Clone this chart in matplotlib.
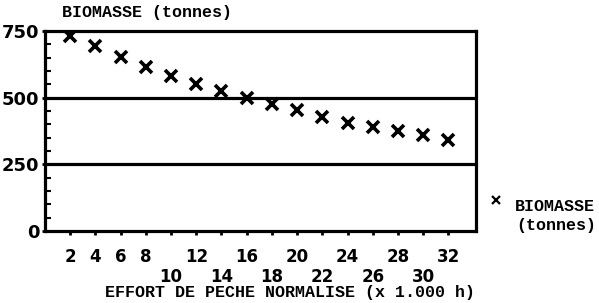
import matplotlib
matplotlib.use("Agg")
import matplotlib.pyplot as plt
from matplotlib.lines import Line2D
from matplotlib.ticker import MultipleLocator

# effort (x 1000 h) and biomass (tonnes)
effort = [2, 4, 6, 8, 10, 12, 14, 16, 18, 20, 22, 24, 26, 28, 30, 32]
biomasse = [732, 692, 652, 615, 580, 551, 525, 499, 476, 452, 427, 405, 390, 375, 360, 341]
y_ticks = [0, 250, 500, 750]
grid_levels = [250, 500]

mono = "Liberation Mono"
lw = 2.3

fig = plt.figure(figsize=(5.99, 3.03), dpi=100)
ax = fig.add_axes([0.075, 0.2376, 0.72, 0.66])

ax.plot(effort, biomasse, linestyle="none", marker="x", color="black",
        markersize=8.5, markeredgewidth=2.6)

for lev in grid_levels:
    ax.axhline(lev, color="black", lw=lw, zorder=1)

ax.set_xlim(0, 34.2)
ax.set_ylim(0, 750)

for s in ax.spines.values():
    s.set_linewidth(lw)

# x ticks: labels staggered on two rows
ax.set_xticks(effort)
ax.set_xticklabels([str(e) if (e < 10 or e % 4 == 0) else "\n" + str(e) for e in effort],
                   fontsize=12, fontweight="bold", linespacing=1.15)
ax.tick_params(axis="x", direction="out", length=3, width=2, pad=9)

ax.set_yticks(y_ticks)
ax.set_yticklabels([str(v) for v in y_ticks], fontsize=13, fontweight="bold")
ax.yaxis.set_minor_locator(MultipleLocator(50))
ax.tick_params(axis="y", which="major", direction="out", length=2, width=2, pad=2)
ax.tick_params(axis="y", which="minor", direction="in", length=4, width=1.5)

fig.text(0.103, 0.96, "BIOMASSE (tonnes)", family=mono, fontweight="bold",
         fontsize=12, va="center", ha="left")
fig.text(0.175, 0.035, "EFFORT DE PECHE NORMALISE (x 1.000 h)", family=mono,
         fontweight="bold", fontsize=12, va="center", ha="left")

# legend drawn by hand
fig.add_artist(Line2D([0.828], [0.34], marker="x", color="black", linestyle="none",
                      markersize=6, markeredgewidth=1.6, transform=fig.transFigure))
fig.text(0.86, 0.317, "BIOMASSE", family=mono, fontweight="bold",
         fontsize=12, va="center", ha="left")
fig.text(0.928, 0.257, "(tonnes)", family=mono, fontweight="bold",
         fontsize=12, va="center", ha="center")

fig.savefig("out.png", dpi=100)
